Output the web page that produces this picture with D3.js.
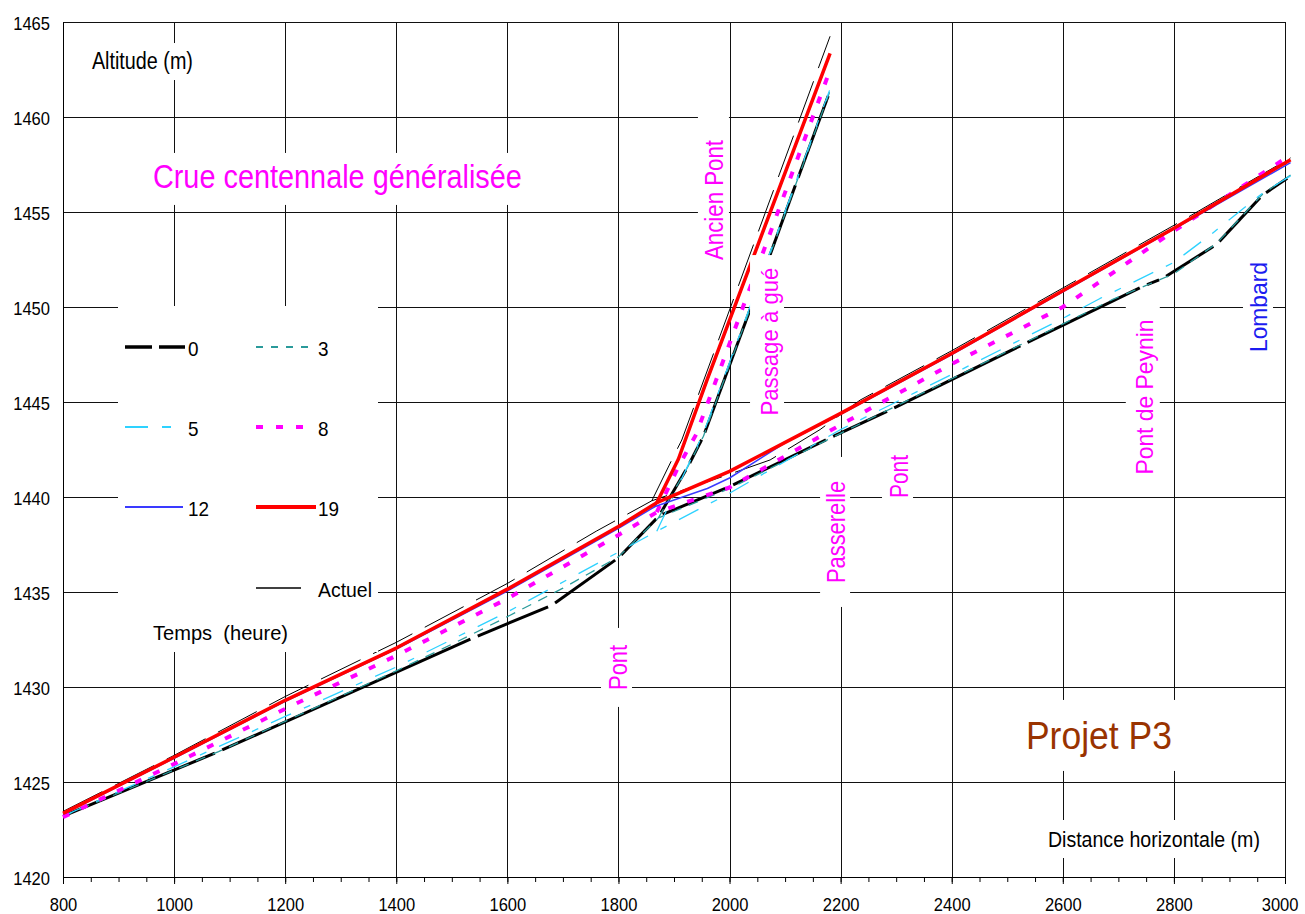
<!DOCTYPE html>
<html>
<head>
<meta charset="utf-8">
<title>Projet P3 - Crue centennale généralisée</title>
<script src="https://cdn.jsdelivr.net/npm/d3@7"></script>
<style>
  html, body { margin: 0; padding: 0; background: #fff; }
  svg { display: block; font-family: "Liberation Sans", Arial, Helvetica, sans-serif; }
  text { white-space: pre; }
</style>
</head>
<body>
<svg id="chart" width="1305" height="914"></svg>
<script>
// ---- axis ticks ----
const xTicks = [800, 1000, 1200, 1400, 1600, 1800, 2000, 2200, 2400, 2600, 2800, 3000];
const yTicks = [1420, 1425, 1430, 1435, 1440, 1445, 1450, 1455, 1460, 1465];

// ---- water-surface profiles: [distance (m), altitude (m)] ----
// main valley, then the side branch rising from the confluence
const actuelMain = [[800,1423.45],[1000,1426.4],[1200,1429.5],[1400,1432.35],[1600,1435.45],[1760,1438.2],[1860,1439.8],[2000,1441.2],[2073,1441.95],[2163,1443.55],[2235,1445.1],[2400,1447.7],[2600,1451.0],[2800,1454.3],[3010,1457.85]];
const actuelTrib = [[1860,1439.8],[1896,1441.95],[1914,1443.0],[2181,1464.25]];

const h0Main = [[800,1423.2],[1080,1426.6],[1540,1432.6],[1680,1434.3],[1800,1436.8],[1873,1439.0],[2000,1440.55],[2180,1443.1],[2290,1444.6],[2530,1448.05],[2745,1451.1],[2780,1451.5],[2877,1453.3],[2960,1455.9],[3010,1456.9]];
const h0Trib = [[1873,1439.0],[1925,1441.6],[1953,1443.2],[2040,1450.1],[2121,1456.6],[2180,1461.3]];

const h3Main = [[800,1423.2],[1080,1426.6],[1400,1430.85],[1500,1432.25],[1600,1433.7],[1700,1435.2],[1800,1436.85],[1872,1438.9],[2000,1440.45],[2200,1443.35],[2690,1450.4],[2800,1451.75],[2877,1453.35],[2960,1455.95],[3010,1456.95]];
const h3Trib = [[1872,1438.9],[1925,1441.6],[1953,1443.2],[2180,1461.3]];

const h5Main = [[800,1423.2],[1000,1425.8],[1200,1428.45],[1400,1431.05],[1600,1433.95],[1800,1437.1],[1869,1438.2],[2000,1440.2],[2200,1443.55],[2400,1446.45],[2600,1449.4],[2667,1450.45],[2800,1452.35],[2868,1453.85],[2960,1456.0],[3010,1456.9]];
const h5Trib = [[1869,1438.2],[1929,1441.9],[1953,1443.35],[2180,1461.4]];

const h8Main = [[800,1423.15],[1000,1425.95],[1200,1428.85],[1400,1431.65],[1600,1434.65],[1800,1438.0],[1869,1439.2],[2000,1440.5],[2200,1443.8],[2400,1447.0],[2600,1450.0],[2800,1454.0],[3010,1458.0]];
const h8Trib = [[1869,1439.2],[1908,1441.6],[1940,1443.3],[2180,1462.4]];

const h12Main = [[800,1423.3],[1000,1426.25],[1200,1429.25],[1400,1432.0],[1600,1435.05],[1800,1438.35],[1866,1439.5],[1960,1440.45],[2000,1441.0],[2100,1442.85],[2200,1444.35],[2400,1447.5],[2600,1450.8],[2800,1454.1],[3010,1457.6]];
const h12Trib = [[1866,1439.5],[1908,1441.95],[1960,1446.15],[2181,1463.3]];

const h19Main = [[800,1423.35],[1000,1426.3],[1200,1429.3],[1400,1432.05],[1600,1435.15],[1800,1438.45],[1869,1439.7],[2000,1441.35],[2200,1444.4],[2400,1447.55],[2600,1450.85],[2800,1454.15],[3010,1457.75]];
const h19Trib = [[1869,1439.7],[1908,1442.0],[1960,1446.2],[2181,1463.35]];

// legend labels (time in hours, plus present state)
const legendLabels = ["0", "3", "5", "8", "12", "19", "Actuel"];

// ---- styles ----
const series = [
  { key: "Actuel", main: actuelMain, trib: actuelTrib, color: "#000000", width: 1,   legendWidth: 1.3, dash: "44,14", legendDash: null,          col: 1, row: 3, len: 45 },
  { key: "0",      main: h0Main,     trib: h0Trib,     color: "#000000", width: 3,   legendWidth: 3.5, gap: 8,        legendDash: "27,7",        col: 0, row: 0, len: 60 },
  { key: "3",      main: h3Main,     trib: h3Trib,     color: "#2a9a9a", width: 1.3, legendWidth: 1.8, dash: "10,8",  legendDash: "7,8",         col: 1, row: 0, len: 55 },
  { key: "5",      main: h5Main,     trib: h5Trib,     color: "#2ed2ff", width: 1.3, legendWidth: 1.8, dash: "22,14,7,14", legendDash: "23,14,9,14", col: 0, row: 1, len: 48 },
  { key: "8",      main: h8Main,     trib: h8Trib,     color: "#ff00ff", width: 4,   legendWidth: 4,   dash: "7,13",  legendDash: "7,13",        col: 1, row: 1, len: 49 },
  { key: "12",     main: h12Main,    trib: h12Trib,    color: "#3a3aff", width: 1.5, legendWidth: 1.8, dash: null,    legendDash: null,          col: 0, row: 2, len: 58 },
  { key: "19",     main: h19Main,    trib: h19Trib,    color: "#ff0000", width: 3.5, legendWidth: 4,   dash: null,    legendDash: null,          col: 1, row: 2, len: 60 }
];

const svg = d3.select("#chart");
const x = d3.scaleLinear().domain([800, 3000]).range([63, 1285]);
const y = d3.scaleLinear().domain([1420, 1465]).range([877, 22]);

const crisp = v => Math.round(v) + 0.5;

// ---- grid ----
const grid = svg.append("g").attr("stroke", "#111").attr("stroke-width", 1);
grid.selectAll("line.h").data(yTicks.filter(v => v > 1420)).join("line")
  .attr("x1", x(800)).attr("x2", x(3000))
  .attr("y1", d => crisp(y(d))).attr("y2", d => crisp(y(d)));
grid.selectAll("line.v").data(xTicks.filter(v => v > 800)).join("line")
  .attr("y1", y(1420)).attr("y2", y(1465))
  .attr("x1", d => crisp(x(d))).attr("x2", d => crisp(x(d)));

// ---- axes ----
function styleAxis(g) {
  g.select(".domain").attr("stroke", "#000").attr("stroke-width", 1);
  g.selectAll(".tick line").attr("stroke", "#000");
  g.selectAll("text").attr("font-size", 19).attr("fill", "#000")
    .attr("font-family", "Liberation Sans, Arial, sans-serif")
    .attr("lengthAdjust", "spacingAndGlyphs")
    .attr("textLength", function () { return this.textContent.length * 9.2; });
}
svg.append("g")
  .attr("transform", `translate(0,${crisp(y(1420)) - 0.5})`)
  .call(d3.axisBottom(x).tickValues(d3.range(800, 3001, 50)).tickSize(5).tickSizeOuter(0).tickFormat(""))
  .call(g => { g.select(".domain").remove(); g.selectAll(".tick line").attr("stroke", "#000"); });
svg.append("g")
  .attr("transform", `translate(0,${crisp(y(1420)) - 0.5})`)
  .call(d3.axisBottom(x).tickValues(xTicks).tickSize(7).tickSizeOuter(0).tickPadding(14).tickFormat(d3.format("d")))
  .call(styleAxis)
  .call(g => g.selectAll(".tick").filter(d => d === 3000).select("text").attr("text-anchor", "end").attr("x", 13));
svg.append("g")
  .attr("transform", `translate(${crisp(x(800)) - 0.5},0)`)
  .call(d3.axisLeft(y).tickValues(yTicks).tickSize(0).tickSizeOuter(0).tickPadding(13).tickFormat(d3.format("d")))
  .call(styleAxis)
  .call(g => g.selectAll("text").attr("dy", "0.42em"));

// ---- profiles ----
const line = d3.line().x(d => x(d[0])).y(d => y(d[1]));
const plot = svg.append("g").attr("fill", "none");

function gappedPath(g, pts, s) {
  // each reach is drawn on its own, leaving a small break at every section
  for (let i = 0; i < pts.length - 1; i++) {
    const p = g.append("path")
      .attr("d", line([pts[i], pts[i + 1]]))
      .attr("stroke", s.color).attr("stroke-width", s.width);
    const L = p.node().getTotalLength();
    p.attr("stroke-dasharray", `${Math.max(L - s.gap, 0)} ${s.gap}`)
     .attr("stroke-dashoffset", -s.gap / 2);
  }
}

series.forEach(s => {
  const g = plot.append("g").attr("class", "series-" + s.key);
  [s.main, s.trib].forEach(pts => {
    if (s.gap) { gappedPath(g, pts, s); return; }
    g.append("path").attr("d", line(pts))
      .attr("stroke", s.color).attr("stroke-width", s.width)
      .attr("stroke-linejoin", "round")
      .attr("stroke-dasharray", s.dash);
  });
});

// ---- annotations with white backing ----
function label(cfg) {
  const g = svg.append("g")
    .attr("transform", `translate(${x(cfg.at[0])},${y(cfg.at[1])}) rotate(${cfg.rotate || 0})`);
  g.append("rect")
    .attr("x", -cfg.box[0] / 2).attr("y", -cfg.box[1] / 2)
    .attr("width", cfg.box[0]).attr("height", cfg.box[1])
    .attr("fill", "#fff");
  g.append("text")
    .attr("x", 0).attr("y", cfg.base)
    .attr("text-anchor", "middle")
    .attr("font-size", cfg.size)
    .attr("fill", cfg.color)
    .attr("lengthAdjust", "spacingAndGlyphs")
    .attr("textLength", cfg.len)
    .text(cfg.text);
}

const annotations = [
  { text: "Altitude (m)", at: [943, 1462.92], box: [114, 37], base: 7, size: 23, len: 101, color: "#000" },
  { text: "Crue centennale généralisée", at: [1294, 1456.74], box: [385, 52], base: 9.5, size: 33, len: 369, color: "#ff00ff" },
  { text: "Distance horizontale (m)", at: [2764, 1422.0], box: [228, 38], base: 7.7, size: 21.5, len: 212, color: "#000" },
  { text: "Projet P3", at: [2665, 1427.45], box: [170, 71], base: 14, size: 38, len: 146, color: "#993300" },
  { text: "Ancien Pont", at: [1971, 1455.63], rotate: -90, box: [188, 31], base: 9.5, size: 25, len: 120, color: "#ff00ff" },
  { text: "Passage à gué", at: [2067.5, 1448.18], rotate: -90, box: [173, 34], base: 11, size: 24, len: 148, color: "#ff00ff" },
  { text: "Pont", at: [1796.5, 1431.03], rotate: -90, box: [79, 31], base: 10.5, size: 25, len: 45, color: "#ff00ff" },
  { text: "Passerelle", at: [2190, 1438.16], rotate: -90, box: [150, 30], base: 10, size: 25, len: 102, color: "#ff00ff" },
  { text: "Pont", at: [2302.4, 1441.08], rotate: -90, box: [79, 31], base: 10.8, size: 25, len: 43, color: "#ff00ff" },
  { text: "Pont de Peynin", at: [2744, 1445.26], rotate: -90, box: [195, 34], base: 10, size: 24, len: 155, color: "#ff00ff" },
  { text: "Lombard", at: [2951.4, 1450.0], rotate: -90, box: [115, 30], base: 9, size: 24, len: 90, color: "#1c1cf0" }
];
annotations.forEach(label);

// ---- legend ----
const legend = svg.append("g");
legend.append("rect").attr("x", 118).attr("y", 306).attr("width", 260).attr("height", 346).attr("fill", "#fff");
const colX = [125, 256], labX = [188, 318], rowY = [347, 427, 507, 588];
series.forEach(s => {
  const lx = colX[s.col], ly = rowY[s.row];
  legend.append("line")
    .attr("x1", lx).attr("x2", lx + s.len).attr("y1", ly).attr("y2", ly)
    .attr("stroke", s.color).attr("stroke-width", s.legendWidth)
    .attr("stroke-dasharray", s.legendDash);
  legend.append("text")
    .attr("x", labX[s.col]).attr("y", ly + 8.5)
    .attr("font-size", 21).attr("fill", "#000")
    .attr("lengthAdjust", "spacingAndGlyphs")
    .attr("textLength", s.key.length === 1 ? 10.5 : (s.key === "Actuel" ? 54 : 21))
    .text(legendLabels[legendLabels.indexOf(s.key)]);
});
legend.append("text")
  .attr("x", 153).attr("y", 640)
  .attr("font-size", 21).attr("fill", "#000")
  .attr("lengthAdjust", "spacingAndGlyphs").attr("textLength", 135)
  .text("Temps  (heure)");
</script>
</body>
</html>
